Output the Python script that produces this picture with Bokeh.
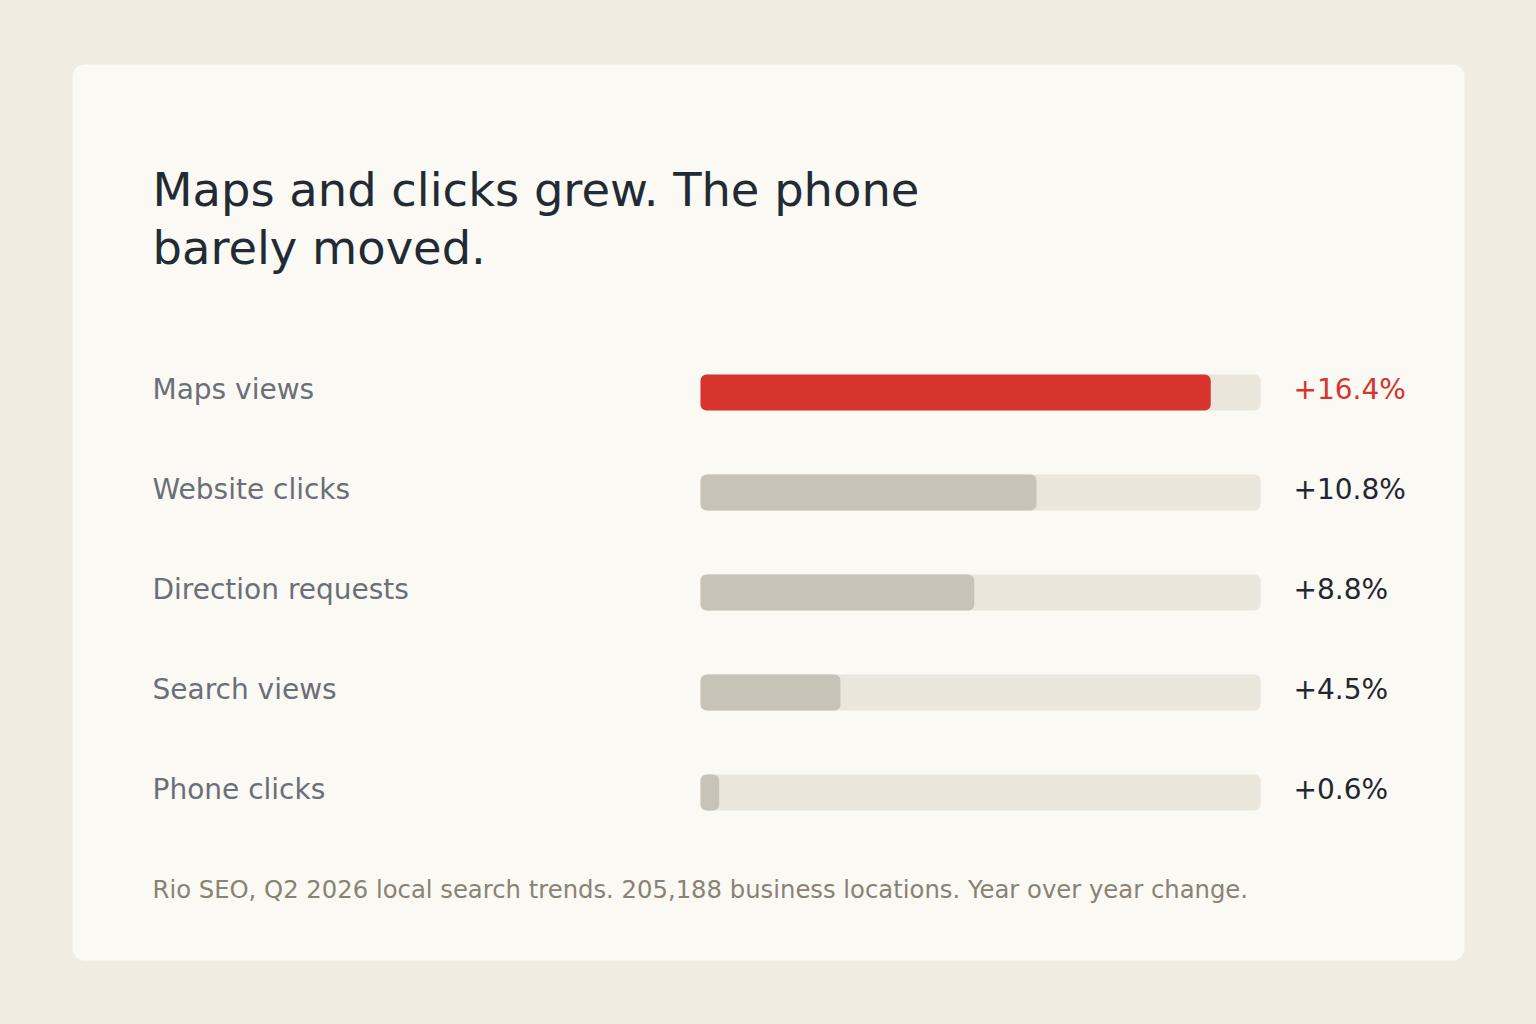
from bokeh.plotting import figure
from bokeh.models import Range1d, ColumnDataSource
from bokeh.core.properties import value
from bokeh.embed import file_html
from bokeh.resources import INLINE

# ---- data ----
categories = ["Maps views", "Website clicks", "Direction requests", "Search views", "Phone clicks"]
changes = [16.4, 10.8, 8.8, 4.5, 0.6]
axis_max = 18.0
title_lines = ["Maps and clicks grew. The phone", "barely moved."]
footnote = "Rio SEO, Q2 2026 local search trends. 205,188 business locations. Year over year change."

# ---- style ----
BG = "#f1ece1"
CARD = "#fbf9f4"
TRACK = "#ebe6dc"
GRAY = "#c8c3b7"
RED = "#d6342c"
TITLE_C = "#222a33"
LABEL_C = "#6a6f78"
VALUE_C = "#1f2730"
FOOT_C = "#8a8274"
FONT = "DejaVu Sans"

W, H = 1536, 1024
p = figure(width=W, height=H, output_backend="svg", toolbar_location=None,
           x_range=Range1d(0, W), y_range=Range1d(H, 0),
           x_axis_type=None, y_axis_type=None, min_border=0,
           background_fill_color=BG, border_fill_color=BG, outline_line_color=None)
p.xgrid.visible = False
p.ygrid.visible = False

# bar scale: 0 -> 700px, axis_max -> 1260px ; rows at 392 + 100*i
x0, x1 = 700, 1260
ppu = (x1 - x0) / axis_max
p.extra_x_ranges = {"pct": Range1d(start=(0 - x0) / ppu, end=(W - x0) / ppu)}
row0, rowstep = 392, 100
p.extra_y_ranges = {"row": Range1d(start=(H - row0) / rowstep, end=(0 - row0) / rowstep)}

# card
p.quad(left=[72], right=[1464], top=[64], bottom=[960], fill_color=CARD,
       line_color=None, border_radius=12)

rows = list(range(len(categories)))
bar_colors = [RED if i == 0 else GRAY for i in rows]
val_colors = [RED if i == 0 else VALUE_C for i in rows]
src = ColumnDataSource(dict(
    y=rows, cat=categories, v=changes, maxv=[axis_max] * len(rows),
    zero=[0] * len(rows), bc=bar_colors, vc=val_colors,
    lab=[f"+{c:.1f}%" for c in changes],
    lx=[152] * len(rows), vx=[1293] * len(rows),
))

p.hbar(y="y", left="zero", right="maxv", height=0.36, source=src,
       fill_color=TRACK, line_color=None, border_radius=6,
       x_range_name="pct", y_range_name="row")
p.hbar(y="y", left="zero", right="v", height=0.36, source=src,
       fill_color="bc", line_color=None, border_radius=6,
       x_range_name="pct", y_range_name="row")

p.text(x="lx", y="y", text="cat", source=src, y_range_name="row",
       text_font=value(FONT), text_font_size="28px", text_color=LABEL_C,
       text_baseline="middle", text_align="left", y_offset=-3)
p.text(x="vx", y="y", text="lab", source=src, y_range_name="row",
       text_font=value(FONT), text_font_size="28px", text_color="vc",
       text_baseline="middle", text_align="left", y_offset=-3)

# title
p.text(x=[152, 152], y=[189, 247], text=title_lines,
       text_font=value(FONT), text_font_size="46.4px", text_color=TITLE_C,
       text_baseline="alphabetic", text_align="left")

# footnote
p.text(x=[152], y=[889], text=[footnote],
       text_font=value(FONT), text_font_size="24.3px", text_color=FOOT_C,
       text_baseline="alphabetic", text_align="left")

html = file_html(p, INLINE)
html = html.replace("</head>", "<style>html,body{background:%s;margin:0;padding:0;overflow:hidden;}</style></head>" % BG, 1)
open("out.html", "w").write(html)
